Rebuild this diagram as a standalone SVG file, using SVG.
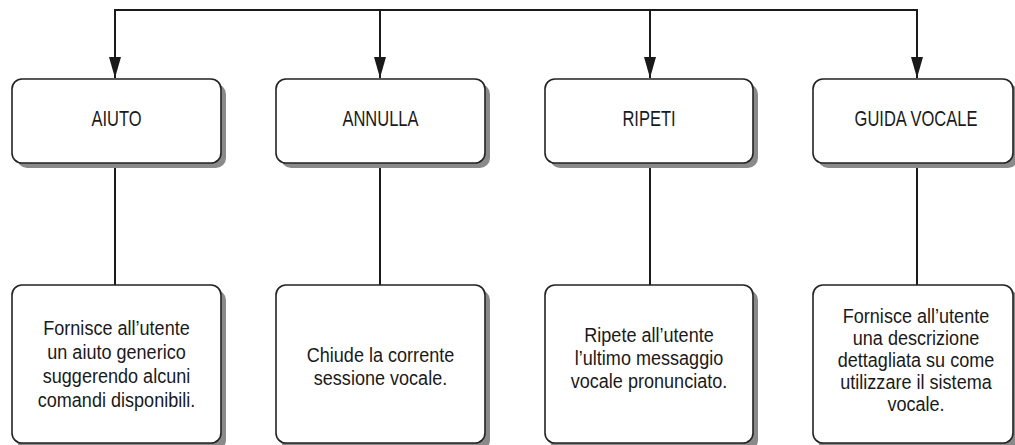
<svg xmlns="http://www.w3.org/2000/svg" width="1015" height="445" viewBox="0 0 1015 445">
<defs>
<style>
.shadow{fill:#8a8a8a;stroke:none}
.box{fill:#ffffff;stroke:#222;stroke-width:1.6}
.conn{fill:none;stroke:#1a1a1a;stroke-width:2}
.lbl{font-family:"Liberation Sans",Arial,sans-serif;font-size:22px;fill:#1a1a1a;text-anchor:middle}
.desc{font-family:"Liberation Sans",Arial,sans-serif;font-size:21px;fill:#1a1a1a;text-anchor:middle}
</style>
<marker id="arr" viewBox="0 0 21 12" refX="21" refY="6" markerWidth="21" markerHeight="12" markerUnits="userSpaceOnUse" orient="auto">
<path d="M0,0 L21,6 L0,12 Z" fill="#1a1a1a"/>
</marker>
</defs>
<rect width="1015" height="445" fill="#ffffff"/>
<g id="connectors">
<path class="conn" d="M115,60 V10 H917 V60"/>
<line class="conn" x1="115" y1="10" x2="115" y2="78" marker-end="url(#arr)"/>
<line class="conn" x1="380" y1="10" x2="380" y2="78" marker-end="url(#arr)"/>
<line class="conn" x1="650" y1="10" x2="650" y2="78" marker-end="url(#arr)"/>
<line class="conn" x1="917" y1="10" x2="917" y2="78" marker-end="url(#arr)"/>
<line class="conn" x1="115" y1="164" x2="115" y2="285"/>
<line class="conn" x1="380" y1="164" x2="380" y2="285"/>
<line class="conn" x1="650" y1="164" x2="650" y2="285"/>
<line class="conn" x1="917" y1="164" x2="917" y2="285"/>
</g>
<g id="aiuto">
<rect class="shadow" x="17" y="84" width="209" height="84" rx="10"/>
<rect class="box" x="12" y="79" width="209" height="84" rx="10"/>
<text class="lbl" transform="translate(116.5,126) scale(0.75,1)">AIUTO</text>
</g>
<g id="annulla">
<rect class="shadow" x="281" y="84" width="209" height="84" rx="10"/>
<rect class="box" x="276" y="79" width="209" height="84" rx="10"/>
<text class="lbl" transform="translate(380.5,126) scale(0.75,1)">ANNULLA</text>
</g>
<g id="ripeti">
<rect class="shadow" x="550" y="84" width="208" height="84" rx="10"/>
<rect class="box" x="545" y="79" width="208" height="84" rx="10"/>
<text class="lbl" transform="translate(649,126) scale(0.75,1)">RIPETI</text>
</g>
<g id="guida">
<rect class="shadow" x="818" y="84" width="200" height="84" rx="10"/>
<rect class="box" x="813" y="79" width="200" height="84" rx="10"/>
<text class="lbl" transform="translate(916,126) scale(0.75,1)">GUIDA VOCALE</text>
</g>
<g id="aiuto-desc">
<rect class="shadow" x="17" y="290" width="209" height="160" rx="10"/>
<rect class="box" x="12" y="285" width="209" height="158" rx="10"/>
<g transform="translate(116.5,0) scale(0.86,1)">
<text class="desc" x="0" y="335">Fornisce all’utente</text>
<text class="desc" x="0" y="359">un aiuto generico</text>
<text class="desc" x="0" y="383">suggerendo alcuni</text>
<text class="desc" x="0" y="407">comandi disponibili.</text>
</g>
</g>
<g id="annulla-desc">
<rect class="shadow" x="281" y="290" width="209" height="160" rx="10"/>
<rect class="box" x="276" y="285" width="209" height="158" rx="10"/>
<g transform="translate(380.5,0) scale(0.86,1)">
<text class="desc" x="0" y="362">Chiude la corrente</text>
<text class="desc" x="0" y="385">sessione vocale.</text>
</g>
</g>
<g id="ripeti-desc">
<rect class="shadow" x="550" y="290" width="208" height="160" rx="10"/>
<rect class="box" x="545" y="285" width="208" height="158" rx="10"/>
<g transform="translate(649,0) scale(0.86,1)">
<text class="desc" x="0" y="342">Ripete all’utente</text>
<text class="desc" x="0" y="365">l’ultimo messaggio</text>
<text class="desc" x="0" y="388">vocale pronunciato.</text>
</g>
</g>
<g id="guida-desc">
<rect class="shadow" x="818" y="290" width="200" height="160" rx="10"/>
<rect class="box" x="813" y="285" width="200" height="158" rx="10"/>
<g transform="translate(916,0) scale(0.86,1)">
<text class="desc" x="0" y="323">Fornisce all’utente</text>
<text class="desc" x="0" y="345">una descrizione</text>
<text class="desc" x="0" y="367">dettagliata su come</text>
<text class="desc" x="0" y="389">utilizzare il sistema</text>
<text class="desc" x="0" y="411">vocale.</text>
</g>
</g>
</svg>
